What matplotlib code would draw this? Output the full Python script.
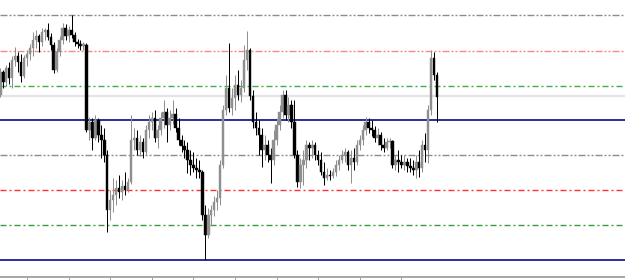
import matplotlib
matplotlib.use("Agg")
import matplotlib.pyplot as plt
import numpy as np

# Candle data (price units), index = bar number
opens = [185,208,198,212,202,220,224,218,204,222,226,232,240,244,238,248,250,243,235,210,
         228,240,252,244,250,245,238,236,234,235,150,158,142,160,145,140,125,70,80,85,
         92,88,94,90,98,140,142,130,138,128,150,158,162,142,150,162,168,155,162,166,
         152,140,134,130,120,115,112,110,108,65,45,65,70,78,82,115,170,192,172,182,
         195,185,192,220,230,184,158,152,145,130,135,125,120,140,155,168,185,165,175,158,
         125,98,115,120,135,132,135,125,120,108,102,105,104,108,115,120,125,128,115,122,
         118,135,140,150,158,152,150,142,145,135,132,138,139,115,120,118,115,118,114,112,
         110,118,112,135,130,170,222,205]
highs = [212,210,215,218,224,233,228,226,225,230,236,248,250,246,252,252,257,247,238,232,
         244,257,256,254,265,248,241,240,238,237,163,162,165,162,155,152,130,90,102,100,
         105,100,108,102,165,152,150,145,142,155,165,168,170,155,168,180,172,170,180,172,
         162,145,140,138,130,128,122,120,110,75,72,75,84,90,120,175,205,237,192,205,
         210,200,235,249,232,190,168,160,152,145,140,132,150,162,175,190,190,183,180,180,
         130,122,130,140,138,140,138,130,128,118,112,110,112,120,125,130,132,130,130,132,
         140,145,155,163,162,160,154,152,148,142,142,142,140,125,130,125,125,122,122,120,
         125,130,140,147,175,230,228,208]
lows = [183,192,194,196,192,214,208,198,202,214,220,224,232,228,234,240,240,230,207,208,
        224,236,240,238,242,234,232,230,230,148,140,130,140,138,122,118,48,60,68,75,
        82,80,85,88,96,130,125,124,122,125,142,150,138,132,145,152,138,150,156,148,
        135,128,122,107,105,108,102,102,60,20,42,55,64,70,75,112,165,168,165,170,
        180,178,188,210,180,152,145,125,113,120,118,97,115,135,150,162,160,158,152,122,
        93,92,95,112,120,122,120,115,105,95,100,100,102,104,110,117,118,110,97,110,
        115,130,135,145,147,144,138,135,130,128,130,132,112,110,108,112,110,108,108,105,
        102,103,108,118,117,165,200,158]
closes = [208,198,212,202,220,224,218,204,222,226,232,240,244,238,248,250,243,235,210,228,
          240,252,244,250,245,238,236,234,236,150,158,142,160,145,140,125,70,80,85,92,
          88,94,90,98,140,142,130,138,128,150,158,162,142,150,162,168,155,162,166,152,
          140,134,130,120,115,112,110,108,65,45,65,70,78,82,115,170,192,172,182,195,
          185,192,220,230,184,158,152,145,130,135,125,120,140,155,168,185,165,175,158,125,
          98,115,120,135,132,135,125,120,108,102,105,104,108,115,120,125,128,115,122,118,
          135,140,150,158,152,150,142,145,135,132,138,139,115,120,118,115,118,114,112,110,
          118,112,135,130,170,222,205,183]

# Horizontal levels (price units)
level_prices = [265, 229, 194, 160, 125, 90, 55, 20]
level_colors = ["#8c8c8c", "#f48a8a", "#3cb043", "#000080", "#8c8c8c", "#ff3030", "#3c9a3c", "#000080"]
level_styles = ["dashdotdot", "dashdotdot", "dashdot", "solid", "dashdotdot", "dashdot", "dashdot", "solid"]
bid_price = 184
tick_bars = [9, 23, 37, 51, 65, 79, 93, 107, 121, 135]

plt.rcParams["lines.scale_dashes"] = False
fig = plt.figure(figsize=(6.25, 2.8), dpi=100)
ax = fig.add_axes([0, 3 / 280, 1, 277 / 280])
ax.set_xlim(-0.09, 210.25)
ax.set_ylim(3, 280)

px = 0.72
styles = {
    "solid": "-",
    "dashdot": (0, (6 * px, 3 * px, 2 * px, 3 * px)),
    "dashdotdot": (0, (7 * px, 2 * px, 2 * px, 2 * px, 2 * px, 2 * px)),
}

# bid line (light grey)
ax.axhline(bid_price, color="#e4e4e4", lw=2.2 * px, zorder=1)
for p, c, s in zip(level_prices, level_colors, level_styles):
    ax.axhline(p, color=c, lw=(1.6 if s == "solid" else 1.4) * px, linestyle=styles[s],
               solid_capstyle="butt", dash_capstyle="butt", zorder=1)

o = np.array(opens, float)
h = np.array(highs, float)
l = np.array(lows, float)
c = np.array(closes, float)
x = np.arange(len(o))
up = c >= o
cols = np.where(up, "#8f8f8f", "#000000")
ax.vlines(x, l, h, colors=cols, lw=1.0 * px, zorder=3)
bottom = np.minimum(o, c)
height = np.maximum(np.abs(c - o), 0.8)
ax.bar(x, height, bottom=bottom, width=0.85, color=cols, edgecolor=cols, linewidth=0.3, zorder=4)

for side in ["top", "right", "left"]:
    ax.spines[side].set_visible(False)
ax.spines["bottom"].set_color("#a8a8a8")
ax.spines["bottom"].set_linewidth(2 * px)
ax.set_xticks(tick_bars)
ax.set_xticklabels([])
ax.tick_params(axis="x", direction="out", length=3, width=1 * px, color="#a0a0a0")
ax.set_yticks([])
ax.patch.set_alpha(0)
fig.savefig("out.png", dpi=100, facecolor="white")
